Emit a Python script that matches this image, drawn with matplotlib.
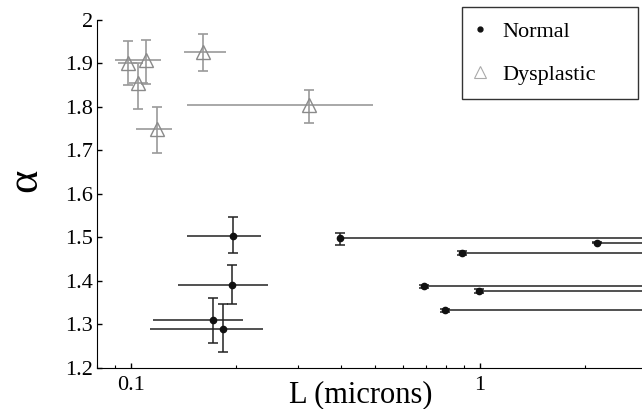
import matplotlib
matplotlib.use("Agg")
import matplotlib.pyplot as plt
import numpy as np
from matplotlib.lines import Line2D

plt.rcParams['font.family'] = ['Liberation Serif', 'DejaVu Serif']

# Normal: L, alpha, L lower/upper, alpha lower/upper
norm_L = [0.196, 0.195, 0.1714, 0.184, 0.397, 2.16, 0.889, 0.692, 0.993, 0.791]
norm_a = [1.503, 1.391, 1.309, 1.290, 1.498, 1.488, 1.464, 1.387, 1.376, 1.332]
norm_Llo = [0.1443, 0.1366, 0.1153, 0.1134, 0.392, 2.13, 0.880, 0.682, 0.983, 0.781]
norm_Lhi = [0.236, 0.247, 0.209, 0.2388, 10, 10, 10, 10, 10, 10]
norm_alo = [1.463, 1.346, 1.256, 1.236, 1.482, 1.486, 1.460, 1.383, 1.372, 1.328]
norm_ahi = [1.546, 1.437, 1.361, 1.346, 1.510, 1.490, 1.468, 1.391, 1.380, 1.336]

# Dysplastic
dys_L = [0.0978, 0.1102, 0.105, 0.1185, 0.161, 0.3245]
dys_a = [1.900, 1.908, 1.854, 1.750, 1.927, 1.804]
dys_Llo = [0.092, 0.090, 0.099, 0.1032, 0.1419, 0.145]
dys_Lhi = [0.104, 0.122, 0.112, 0.1307, 0.1867, 0.493]
dys_alo = [1.850, 1.852, 1.796, 1.694, 1.883, 1.764]
dys_ahi = [1.952, 1.955, 1.900, 1.800, 1.968, 1.838]

fig = plt.figure(figsize=(6.42, 4.09), dpi=100)
ax = fig.add_axes([0.1511, 0.1010, 0.8489, 0.8501])

dL, da = np.array(dys_L), np.array(dys_a)
gray = '#9a9a9a'
ax.errorbar(dL, da, xerr=[dL - np.array(dys_Llo), np.array(dys_Lhi) - dL],
            fmt='none', ecolor=gray, elinewidth=1.2, capsize=0)
ax.errorbar(dL, da, yerr=[da - np.array(dys_alo), np.array(dys_ahi) - da],
            fmt='none', ecolor=gray, elinewidth=1.2, capsize=3.5, capthick=1.2)
ax.plot(dL, da, linestyle='none', marker='^', markersize=10, markerfacecolor='none',
        markeredgecolor='#8a8a8a', markeredgewidth=1.0)

nL, na = np.array(norm_L), np.array(norm_a)
dark = '#222222'
ax.errorbar(nL, na, xerr=[nL - np.array(norm_Llo), np.array(norm_Lhi) - nL],
            fmt='none', ecolor=dark, elinewidth=1.1, capsize=0)
ax.errorbar(nL, na, yerr=[na - np.array(norm_alo), np.array(norm_ahi) - na],
            fmt='none', ecolor=dark, elinewidth=1.1, capsize=3.5, capthick=1.1)
ax.plot(nL, na, linestyle='none', marker='o', markersize=4.5, color='#111111')

ax.set_xscale('log')
ax.set_xlim(0.0799, 2.91)
ax.set_ylim(1.2, 2.0)
ax.set_yticks(np.arange(1.2, 2.01, 0.1))
ax.set_yticklabels(['1.2', '1.3', '1.4', '1.5', '1.6', '1.7', '1.8', '1.9', '2'])
ax.set_xticks([0.1, 1])
ax.set_xticklabels(['0.1', '1'])
ax.tick_params(axis='both', which='major', direction='in', length=3.5, labelsize=16, width=1)
ax.tick_params(axis='y', which='major', pad=3)
ax.tick_params(axis='x', which='major', pad=6)
ax.tick_params(axis='x', which='minor', direction='in', length=2.5, width=0.8)
ax.spines['top'].set_visible(False)
ax.spines['right'].set_visible(False)

fig.text(361 / 642, 7 / 409, 'L (microns)', fontsize=22, ha='center', va='baseline')
fig.text(25 / 642, 1 - 180 / 409, 'α', fontsize=32, ha='center', va='center', rotation=90)

hn = Line2D([], [], linestyle='none', marker='o', markersize=3.5, color='#111111')
hd = Line2D([], [], linestyle='none', marker='^', markersize=9, markerfacecolor='none',
            markeredgecolor='#aaaaaa', markeredgewidth=0.8)
h_ax = 91 / 347.7
leg = ax.legend([hn, hd], ['Normal', 'Dysplastic'], loc='upper left',
                bbox_to_anchor=(0.6697, 1.0374 - h_ax, 0.3229, h_ax), mode='expand',
                borderaxespad=0, fontsize=16, frameon=True, fancybox=False,
                edgecolor='black', handlelength=0.3, handletextpad=0.85,
                labelspacing=1.0, borderpad=0.65)
leg.get_frame().set_linewidth(1.0)

fig.savefig('out.png', dpi=100)
